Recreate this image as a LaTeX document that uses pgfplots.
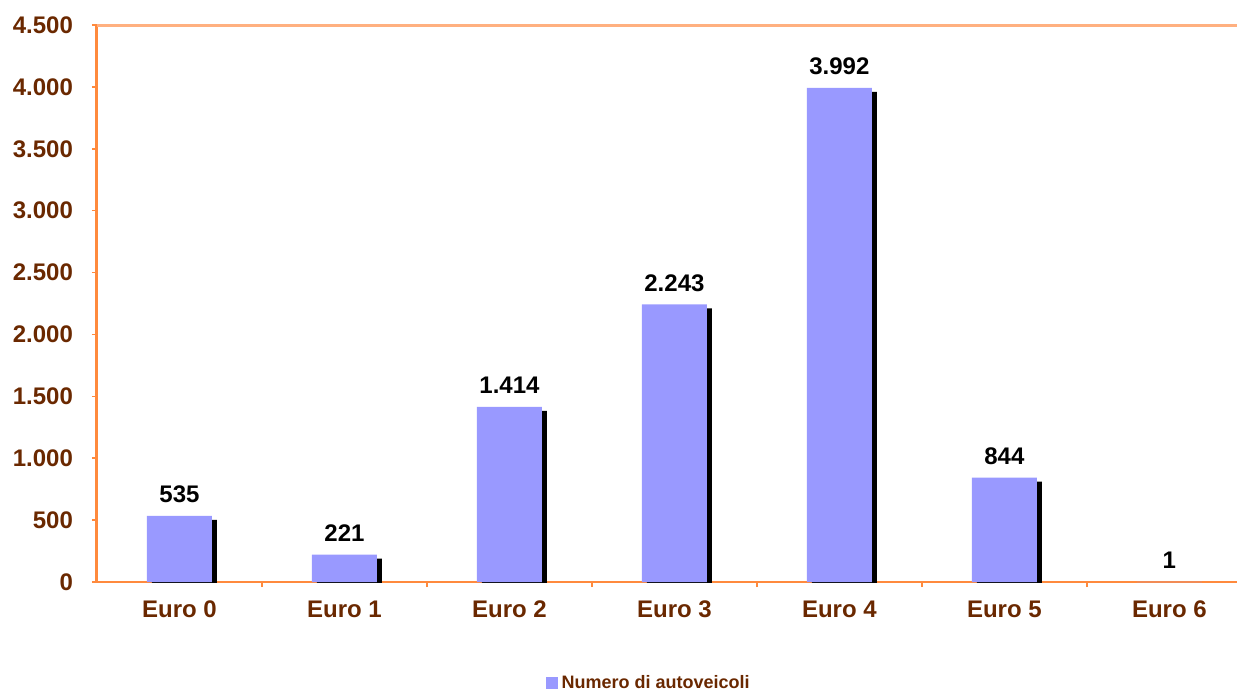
\documentclass[border=0pt]{standalone}
\usepackage{pgfplots}
\pgfplotsset{compat=1.18}
\usepackage{fontspec}
\setmainfont{Liberation Sans}

\definecolor{barblue}{HTML}{9999FF}
\definecolor{axorange}{HTML}{FF8A3D}
\definecolor{toporange}{HTML}{FFB080}
\definecolor{labbrown}{HTML}{6A2800}

\begin{document}
\begin{tikzpicture}
\path[use as bounding box] (-48.5pt,-54.5pt) rectangle (570pt,291pt);
\begin{axis}[
    name=ax,
    at={(0,0)}, anchor=south west,
    scale only axis,
    width=570pt, height=278.5pt,
    xmin=-0.5, xmax=6.41,
    ymin=0, ymax=4500,
    axis x line*=bottom,
    axis y line*=left,
    axis line style={draw=axorange},
    x axis line style={line width=0.9pt},
    y axis line style={line width=1.5pt},
    xtick={0.5,1.5,...,5.5},
    xticklabels={},
    extra x ticks={0,1,2,3,4,5,6},
    extra x tick labels={Euro 0,Euro 1,Euro 2,Euro 3,Euro 4,Euro 5,Euro 6},
    extra x tick style={major tick length=0pt},
    ytick={0,500,...,4500},
    tick align=outside,
    major tick length=2.5pt,
    tick style={draw=axorange, line width=0.8pt},
    every tick label/.append style={font=\fontsize{12}{14}\selectfont\bfseries, text=labbrown},
    xticklabel style={yshift=-6pt},
    yticklabel style={xshift=-6pt},
    /pgf/number format/.cd, 1000 sep={.}, assume math mode=true,
    /pgfplots/.cd,
    scaled y ticks=false,
    ybar, bar width=32.5pt,
    clip=true, clip mode=global,
    legend style={at={(0.485,0)}, anchor=center, yshift=-50.5pt, draw=none,
        font=\fontsize{9}{11}\selectfont\bfseries, text=labbrown,
        legend cell align=left, inner sep=0pt},
    legend image code/.code={\fill[barblue] (0cm,-0.1cm) rectangle (0.2cm,0.1cm);},
]
% shadow on the right side of each bar
\addplot[fill=black, draw=none, bar shift=2.5pt, yshift=-2pt, forget plot]
  coordinates {(0,535) (1,221) (2,1414) (3,2243) (4,3992) (5,844)};
\addplot[fill=barblue, draw=none, bar shift=0pt,
    nodes near coords,
    every node near coord/.append style={font=\fontsize{12}{14}\selectfont\bfseries, text=black, yshift=3pt},
    nodes near coords style={/pgf/number format/1000 sep={.}}]
  coordinates {(0,535) (1,221) (2,1414) (3,2243) (4,3992) (5,844) (6,1)};
\addlegendentry{Numero di autoveicoli}
\end{axis}
\draw[toporange, line width=1.5pt] (ax.north west) -- (ax.north east);
\end{tikzpicture}
\end{document}
